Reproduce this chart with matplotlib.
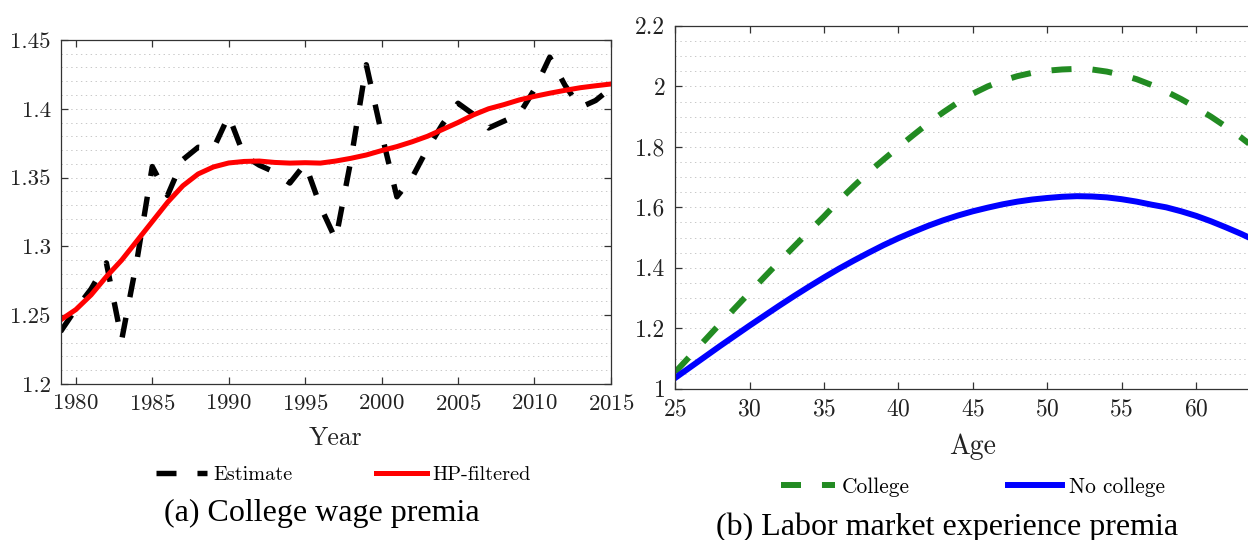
import numpy as np
import matplotlib
matplotlib.use("Agg")
import matplotlib.pyplot as plt
from matplotlib.ticker import MultipleLocator, FormatStrFormatter

# ===============================
# DATA
# ===============================
years = list(range(1979, 2016))
estimate = [1.238, 1.2545, 1.269, 1.288, 1.232, 1.290, 1.358, 1.337, 1.363, 1.372,
            1.371, 1.395, 1.366, 1.359, 1.354, 1.346, 1.360, 1.329, 1.305, 1.363,
            1.432, 1.382, 1.336, 1.350, 1.371, 1.389, 1.404, 1.396, 1.386, 1.391,
            1.396, 1.414, 1.4375, 1.417, 1.401, 1.406, 1.415]
hp_filtered = [1.2465, 1.254, 1.2647, 1.278, 1.290, 1.304, 1.318, 1.332, 1.344, 1.3526,
               1.3577, 1.3606, 1.3617, 1.362, 1.361, 1.3605, 1.3608, 1.3605, 1.362, 1.364,
               1.3664, 1.3696, 1.3725, 1.376, 1.380, 1.385, 1.390, 1.3955, 1.400, 1.403,
               1.4064, 1.409, 1.4113, 1.4134, 1.4153, 1.4167, 1.418]

ages = list(range(25, 66))
college = [1.055, 1.108, 1.161, 1.214, 1.266, 1.318, 1.370, 1.421, 1.471, 1.521,
           1.570, 1.622, 1.670, 1.716, 1.758, 1.799, 1.839, 1.878, 1.914, 1.947,
           1.976, 2.000, 2.019, 2.034, 2.045, 2.052, 2.056, 2.058, 2.056, 2.049,
           2.038, 2.024, 2.005, 1.983, 1.958, 1.930, 1.900, 1.867, 1.832, 1.794,
           1.754]
no_college = [1.036, 1.071, 1.106, 1.141, 1.175, 1.209, 1.242, 1.275, 1.307, 1.338,
              1.368, 1.397, 1.424, 1.450, 1.475, 1.498, 1.519, 1.539, 1.557, 1.573,
              1.587, 1.599, 1.610, 1.619, 1.626, 1.631, 1.635, 1.637, 1.636, 1.633,
              1.627, 1.619, 1.609, 1.600, 1.587, 1.572, 1.554, 1.534, 1.513, 1.490,
              1.465]
age_ticks = [25, 30, 35, 40, 45, 50, 55, 60]

# ===============================
# STYLE
# ===============================
plt.rcParams['font.family'] = 'cmr10'
plt.rcParams['mathtext.fontset'] = 'cm'
plt.rcParams['axes.formatter.use_mathtext'] = True
plt.rcParams['lines.scale_dashes'] = False

spine_col = '#333333'
dash = (0, (14.4, 15.1))

fig = plt.figure(figsize=(12.48, 5.4), dpi=100)
ax1 = fig.add_axes([0.0485, 0.289, 0.441, 0.637])
ax2 = fig.add_axes([0.541, 0.280, 0.477, 0.672])


def style_axes(ax, fs):
    for s in ax.spines.values():
        s.set_color(spine_col)
        s.set_linewidth(0.9)
    ax.tick_params(which='major', direction='in', length=5, width=0.9,
                   top=True, right=True, colors=spine_col, labelcolor='#222222',
                   labelsize=fs, pad=7)
    ax.tick_params(which='minor', length=0, top=True, right=True)
    ax.grid(False)
    ax.yaxis.grid(True, which='both', linestyle=(0, (1, 2.5)),
                  color='#c8c8c8', linewidth=0.7)
    ax.set_axisbelow(True)


# ===============================
# PANEL A
# ===============================
ax1.plot(years, estimate, color='black', linewidth=3.9, linestyle=dash,
         label='Estimate')
ax1.plot(years, hp_filtered, color='red', linewidth=3.6, label='HP-filtered')
ax1.set_xlim(1979, 2015)
ax1.set_ylim(1.2, 1.45)
ax1.xaxis.set_major_locator(MultipleLocator(5))
ax1.yaxis.set_major_locator(MultipleLocator(0.05))
ax1.yaxis.set_minor_locator(MultipleLocator(0.01))
ax1.yaxis.set_major_formatter(FormatStrFormatter('%g'))
style_axes(ax1, 16.5)
ax1.set_xlabel('Year', fontsize=18.5, color='#222222', labelpad=9)
ax1.legend(loc='center', bbox_to_anchor=(343.5 / 1248, 1 - 475 / 540),
           bbox_transform=fig.transFigure, ncol=2, frameon=False,
           fontsize=14.6, handlelength=2.52, handletextpad=0.3,
           columnspacing=4.1, borderpad=0, borderaxespad=0)

# ===============================
# PANEL B
# ===============================
ax2.plot(ages, college, color='#228B22', linewidth=4.3, linestyle=dash,
         label='College')
ax2.plot(ages, no_college, color='blue', linewidth=4.3, label='No college')
ax2.set_xlim(25, 65)
ax2.set_ylim(1, 2.2)
ax2.set_xticks(age_ticks)
ax2.yaxis.set_major_locator(MultipleLocator(0.2))
ax2.yaxis.set_minor_locator(MultipleLocator(0.05))
ax2.yaxis.set_major_formatter(FormatStrFormatter('%g'))
style_axes(ax2, 17)
ax2.set_xlabel('Age', fontsize=20, color='#222222', labelpad=9)
ax2.legend(loc='center', bbox_to_anchor=(973 / 1248, 1 - 487 / 540),
           bbox_transform=fig.transFigure, ncol=2, frameon=False,
           fontsize=15.4, handlelength=2.52, handletextpad=0.3,
           columnspacing=4.6, borderpad=0, borderaxespad=0)

# ===============================
# CAPTIONS
# ===============================
fig.text(322 / 1248, 1 - 513 / 540, '(a) College wage premia',
         family='Liberation Serif', fontsize=23, ha='center', va='center')
fig.text(947 / 1248, 1 - 527 / 540, '(b) Labor market experience premia',
         family='Liberation Serif', fontsize=23, ha='center', va='center')

fig.savefig('out.png', dpi=100)
